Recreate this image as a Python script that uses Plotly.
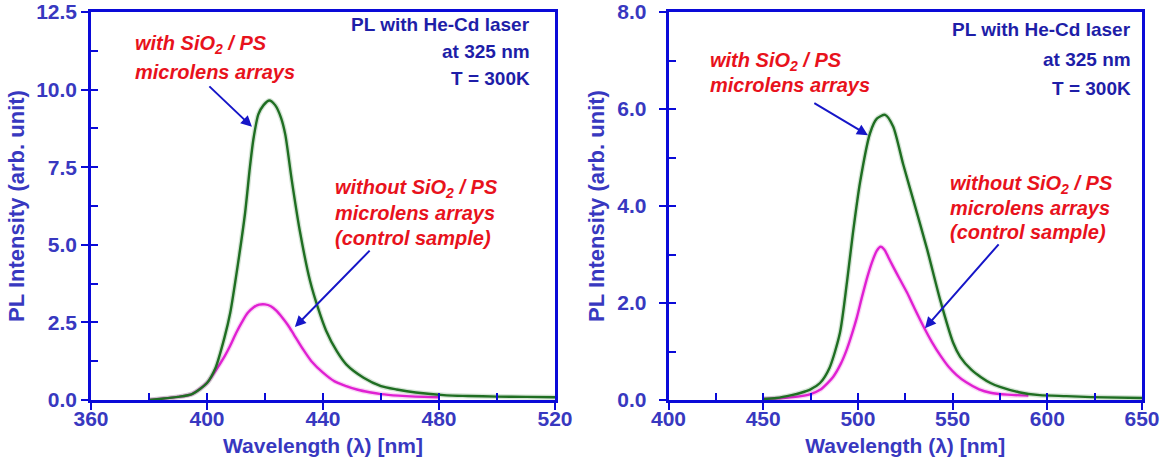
import plotly.graph_objects as go

# ---- PL spectra, left panel (blue-emitting sample) ----
left_wl_with = [380, 390, 395, 400, 403, 406, 408, 410.7, 413.1, 414.8, 416, 417.7, 419.5, 421.5,
                423.5, 425.5, 427, 429.2, 432, 435.5, 438.5, 441, 444.7, 448, 454, 460, 465.4,
                472, 482.6, 490, 500, 510, 520]
left_with = [0.0, 0.1, 0.2, 0.55, 1.05, 2.0, 2.8, 4.4, 6.0, 7.5, 8.4, 9.2, 9.5, 9.65,
             9.5, 9.1, 8.55, 7.1, 5.45, 3.85, 2.9, 2.25, 1.58, 1.15, 0.72, 0.45, 0.34,
             0.24, 0.15, 0.13, 0.11, 0.1, 0.09]
left_wl_without = [380, 390, 395, 400, 403, 406, 408, 410, 412, 414, 416, 418, 420, 422, 424,
                   426, 428, 430, 433, 436, 440, 444, 448, 452, 456, 460, 466, 472, 480]
left_without = [0.0, 0.1, 0.2, 0.55, 0.95, 1.4, 1.75, 2.15, 2.5, 2.8, 2.98, 3.07, 3.08, 3.02, 2.87,
                2.65, 2.4, 2.1, 1.65, 1.25, 0.88, 0.6, 0.45, 0.33, 0.25, 0.19, 0.14, 0.11, 0.09]

# ---- PL spectra, right panel (green-emitting sample) ----
right_wl_with = [450, 457, 465, 470, 475, 480, 485, 490.5, 494.2, 497.4, 501.1, 506.4, 510,
                 514.4, 518.6, 523.9, 529.2, 536.6, 543.4, 550.3, 554, 560, 565, 570, 575,
                 585, 596, 610, 623, 650]
right_with = [0.02, 0.04, 0.1, 0.15, 0.22, 0.35, 0.66, 1.38, 2.42, 3.45, 4.48, 5.5, 5.8,
              5.88, 5.64, 4.86, 4.13, 3.1, 2.07, 1.18, 0.89, 0.62, 0.47, 0.35, 0.27,
              0.16, 0.1, 0.08, 0.06, 0.04]
right_wl_without = [450, 460, 470, 475, 480, 484, 487, 491, 494, 497, 499.5, 502, 505, 508, 510,
                    512, 514, 516, 518.6, 522, 526, 530, 534.7, 539, 543.5, 548, 552, 557, 564,
                    570, 579, 590]
right_without = [0.02, 0.04, 0.08, 0.12, 0.21, 0.35, 0.48, 0.75, 1.03, 1.38, 1.71, 2.1, 2.54, 2.9, 3.08,
                 3.16, 3.1, 2.95, 2.75, 2.5, 2.21, 1.88, 1.51, 1.2, 0.92, 0.68, 0.52, 0.37, 0.22,
                 0.15, 0.11, 0.09]

# ---- axis ranges and tick steps ----
left_x_range, left_x_major = [360, 520], 40
left_y_range, left_y_major = [0, 12.5], 2.5
right_x_range, right_x_major = [400, 650], 50
right_y_range, right_y_major = [0, 8.0], 2.0

FONT = "Liberation Sans, Arial, sans-serif"
AXIS_BLUE = "#0a0ad8"
LABEL_BLUE = "#3838c0"
NOTE_BLUE = "#1e1ea8"
RED = "#e8121c"
GREEN = "#1f6e22"
MAGENTA = "#e020d2"

fig = go.Figure()

def spectrum(x, y, color, xa, ya):
    # soft halo underneath, then the line itself
    fig.add_trace(go.Scatter(x=x, y=y, mode="lines", xaxis=xa, yaxis=ya, hoverinfo="skip",
                             line=dict(color=color, width=5, shape="spline", smoothing=0.7),
                             opacity=0.18, showlegend=False))
    fig.add_trace(go.Scatter(x=x, y=y, mode="lines", xaxis=xa, yaxis=ya,
                             line=dict(color=color, width=2.4, shape="spline", smoothing=0.7),
                             showlegend=False))

spectrum(left_wl_without, left_without, MAGENTA, "x", "y")
spectrum(left_wl_with, left_with, GREEN, "x", "y")
spectrum(right_wl_without, right_without, MAGENTA, "x2", "y2")
spectrum(right_wl_with, right_with, GREEN, "x2", "y2")

# empty traces so the overlay axes (inside tick marks) get drawn
fig.add_trace(go.Scatter(x=[], y=[], xaxis="x3", yaxis="y3", showlegend=False))
fig.add_trace(go.Scatter(x=[], y=[], xaxis="x4", yaxis="y4", showlegend=False))

W, H = 1173, 461
left_dom = [91 / W, 555 / W]
right_dom = [668.5 / W, 1142 / W]

tickfont = dict(family=FONT, size=21, color=LABEL_BLUE, weight="bold")
xtitlefont = dict(family=FONT, size=21, color=LABEL_BLUE, weight="bold")
ytitlefont = dict(family=FONT, size=22, color=LABEL_BLUE, weight="bold")

def main_axis(rng, dtick, dom=None, anchor=None, fmt=None, title=None, tfont=None, standoff=None):
    d = dict(range=rng, dtick=dtick, tick0=rng[0], showgrid=False, zeroline=False,
             showline=True, linecolor=AXIS_BLUE, linewidth=2.5, mirror=True,
             ticks="outside", ticklen=7, tickwidth=2, tickcolor=AXIS_BLUE,
             tickfont=tickfont, fixedrange=True, automargin=False)
    if dom is not None:
        d["domain"] = dom
    if anchor is not None:
        d["anchor"] = anchor
    if fmt is not None:
        d["tickformat"] = fmt
    if title is not None:
        d["title"] = dict(text=title, font=tfont, standoff=standoff)
    return d

def inside_axis(rng, dtick, over, anchor):
    return dict(range=rng, dtick=dtick, tick0=rng[0], overlaying=over, anchor=anchor,
                showgrid=False, zeroline=False, showline=False, showticklabels=False,
                ticks="inside", ticklen=7, tickwidth=2, tickcolor=AXIS_BLUE,
                fixedrange=True, automargin=False)

fig.update_layout(
    width=W, height=H,
    margin=dict(l=0, r=0, t=12, b=61, autoexpand=False),
    paper_bgcolor="white", plot_bgcolor="white",
    font=dict(family=FONT),
    xaxis=main_axis(left_x_range, left_x_major, left_dom, "y", None,
                    "Wavelength (λ) [nm]", xtitlefont, 10),
    yaxis=main_axis(left_y_range, left_y_major, [0, 1], "x", ".1f",
                    "PL Intensity (arb. unit)", ytitlefont, 6),
    xaxis2=main_axis(right_x_range, right_x_major, right_dom, "y2", None,
                     "Wavelength (λ) [nm]", xtitlefont, 10),
    yaxis2=main_axis(right_y_range, right_y_major, [0, 1], "x2", ".1f",
                     "PL Intensity (arb. unit)", ytitlefont, 7),
    xaxis3=inside_axis(left_x_range, left_x_major / 2, "x", "y"),
    yaxis3=inside_axis(left_y_range, left_y_major / 2, "y", "x"),
    xaxis4=inside_axis(right_x_range, right_x_major / 2, "x2", "y2"),
    yaxis4=inside_axis(right_y_range, right_y_major / 2, "y2", "x2"),
)
fig.layout.yaxis2.ticklabelstandoff = 8
fig.layout.xaxis.ticklabelstandoff = -9
fig.layout.xaxis2.ticklabelstandoff = -9

red_font = dict(family=FONT, size=20, color=RED, weight="bold", style="italic")
blue_font = dict(family=FONT, size=19, color=NOTE_BLUE, weight="bold")

def note(text, x, y, xa, ya, font, xanchor):
    fig.add_annotation(text=text, x=x, y=y, xref=xa, yref=ya, showarrow=False,
                       xanchor=xanchor, yanchor="middle", font=font)

def arrow(x0, y0, x1, y1, xa, ya):
    fig.add_annotation(text="", x=x1, y=y1, ax=x0, ay=y0, xref=xa, yref=ya,
                       axref=xa, ayref=ya, showarrow=True, arrowhead=2, arrowsize=1.1,
                       arrowwidth=2, arrowcolor="#1616c8", standoff=0)

with_lines = ["with SiO<sub>2</sub> / PS", "microlens arrays"]
without_lines = ["without SiO<sub>2</sub> / PS", "microlens arrays", "(control sample)"]
cond_lines = ["PL with He-Cd laser", "at 325 nm", "T = 300K"]

# left panel notes
for t, yv in zip(with_lines, [11.44, 10.57]):
    note(t, 374.5, yv, "x", "y", red_font, "left")
for t, yv in zip(without_lines, [6.83, 6.02, 5.22]):
    note(t, 443.4, yv, "x", "y", red_font, "left")
for t, yv in zip(cond_lines, [12.11, 11.24, 10.37]):
    note(t, 512.1, yv, "x", "y", blue_font, "right")
arrow(400.3, 10.15, 415.5, 8.8, "x", "y")
arrow(456.6, 4.86, 430.3, 2.35, "x", "y")

# right panel notes
for t, yv in zip(with_lines, [6.97, 6.49]):
    note(t, 420.9, yv, "x2", "y2", red_font, "left")
for t, yv in zip(without_lines, [4.45, 3.96, 3.46]):
    note(t, 547.6, yv, "x2", "y2", red_font, "left")
for t, yv in zip(cond_lines, [7.63, 7.03, 6.43]):
    note(t, 645.2, yv, "x2", "y2", blue_font, "right")
arrow(476.2, 6.14, 505.3, 5.46, "x2", "y2")
arrow(575.0, 3.24, 535.4, 1.48, "x2", "y2")

fig.write_html("out.html")
